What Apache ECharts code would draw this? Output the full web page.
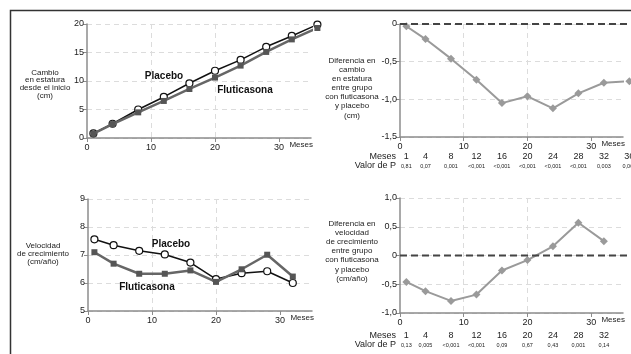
<!DOCTYPE html>
<html>
<head>
<meta charset="utf-8">
<script src="https://cdn.jsdelivr.net/npm/echarts@6/dist/echarts.min.js"></script>
<style>
html, body { margin: 0; padding: 0; background: #fff; }
#chart { width: 631px; height: 354px; }
</style>
</head>
<body>
<div id="chart"></div>
<script>
// datos
var meses = [1, 4, 8, 12, 16, 20, 24, 28, 32, 36];
var cambioPlacebo = [0.8, 2.5, 5.0, 7.2, 9.6, 11.8, 13.7, 16.0, 17.9, 19.9];
var cambioFluticasona = [0.75, 2.45, 4.5, 6.5, 8.6, 10.6, 12.7, 15.1, 17.3, 19.3];
var difCambio = [-0.03, -0.2, -0.46, -0.74, -1.05, -0.96, -1.12, -0.92, -0.78, -0.76];
var valorPCambio = ['0,81', '0,07', '0,001', '<0,001', '<0,001', '<0,001', '<0,001', '<0,001', '0,003', '0,006'];

var mesesVel = [1, 4, 8, 12, 16, 20, 24, 28, 32];
var velPlacebo = [7.56, 7.35, 7.15, 7.02, 6.73, 6.14, 6.35, 6.42, 6.0];
var velFluticasona = [7.1, 6.69, 6.33, 6.33, 6.45, 6.04, 6.49, 7.01, 6.23];
var difVel = [-0.46, -0.62, -0.79, -0.68, -0.26, -0.08, 0.16, 0.57, 0.25];
var valorPVel = ['0,13', '0,005', '<0,001', '<0,001', '0,09', '0,67', '0,43', '0,001', '0,14'];

var xTicks = [0, 10, 20, 30];
var FONT = '"Liberation Sans", Arial, sans-serif';
var AXIS_GRAY = '#8c8c8c';
var TXT = '#222';

function pares(xs, ys) {
  return xs.map(function (x, i) { return [x, ys[i]]; });
}

function coma(v) {
  if (v === 0) return '0';
  return v.toFixed(1).replace('.', ',');
}

function xAx(gi) {
  return {
    type: 'value', gridIndex: gi, min: 0, max: 35,
    name: 'Meses', nameLocation: 'end', nameGap: 2,
    nameTextStyle: { fontSize: 8, color: TXT, fontFamily: FONT, align: 'right', verticalAlign: 'top', padding: [3, 0, 0, 0] },
    axisLine: { onZero: false, lineStyle: { color: AXIS_GRAY, width: 1.5 } },
    axisTick: { show: true, length: 4, customValues: xTicks, lineStyle: { color: AXIS_GRAY } },
    axisLabel: { customValues: xTicks, fontSize: 9, color: TXT, fontFamily: FONT, margin: 5 },
    splitLine: { show: true, showMinLine: false, showMaxLine: false, lineStyle: { color: '#dcdcdc', type: [5, 4] } }
  };
}

function yAx(gi, min, max, interval, fmt) {
  return {
    type: 'value', gridIndex: gi, min: min, max: max, interval: interval,
    axisLine: { show: true, onZero: false, lineStyle: { color: AXIS_GRAY, width: 1.5 } },
    axisTick: { show: true, length: 4, lineStyle: { color: AXIS_GRAY } },
    axisLabel: { fontSize: 9, color: TXT, fontFamily: FONT, margin: 3, formatter: fmt },
    splitLine: { show: true, lineStyle: { color: '#dcdcdc', type: [5, 4] } }
  };
}

function lineaPlacebo(gi, data) {
  return {
    type: 'line', xAxisIndex: gi, yAxisIndex: gi, data: data, clip: false, z: 3,
    symbol: 'circle', symbolSize: 7,
    itemStyle: { color: '#fff', borderColor: '#111', borderWidth: 1.2 },
    lineStyle: { color: '#111', width: 1.5 }
  };
}

function lineaFluti(gi, data) {
  return {
    type: 'line', xAxisIndex: gi, yAxisIndex: gi, data: data, clip: false, z: 4,
    symbol: 'rect', symbolSize: 6,
    itemStyle: { color: '#555' },
    lineStyle: { color: '#666', width: 2.5 }
  };
}

function lineaDif(gi, data) {
  return {
    type: 'line', xAxisIndex: gi, yAxisIndex: gi, data: data, clip: false, z: 4,
    symbol: 'diamond', symbolSize: 8,
    itemStyle: { color: '#9a9a9a' },
    lineStyle: { color: '#9a9a9a', width: 2 }
  };
}

var chart = echarts.init(document.getElementById('chart'));

var option = {
  animation: false,
  textStyle: { fontFamily: FONT },
  grid: [
    { left: 87, top: 24, width: 224, height: 114 },
    { left: 400, top: 24, width: 223, height: 113 },
    { left: 88, top: 199, width: 224, height: 112 },
    { left: 400, top: 198, width: 223, height: 115 }
  ],
  xAxis: [xAx(0), xAx(1), xAx(2), xAx(3)],
  yAxis: [
    yAx(0, 0, 20, 5),
    yAx(1, -1.5, 0, 0.5, coma),
    yAx(2, 5, 9, 1),
    yAx(3, -1, 1, 0.5, coma)
  ],
  series: [
    lineaPlacebo(0, pares(meses, cambioPlacebo)),
    lineaFluti(0, pares(meses, cambioFluticasona)),
    lineaDif(1, pares(meses, difCambio)),
    lineaPlacebo(2, pares(mesesVel, velPlacebo)),
    lineaFluti(2, pares(mesesVel, velFluticasona)),
    lineaDif(3, pares(mesesVel, difVel))
  ]
};

chart.setOption(option);

// textos y lineas de referencia
var g = [];

g.push({
  type: 'polyline', silent: true, z: 10,
  shape: { points: [[10.5, 354], [10.5, 10.5], [631, 10.5]] },
  style: { stroke: '#333', lineWidth: 1.5, fill: null }
});

function texto(x, y, t, opts) {
  opts = opts || {};
  g.push({
    type: 'text', x: x, y: y, silent: true, z: 10,
    style: {
      text: t, fill: opts.color || TXT,
      font: (opts.weight || 'normal') + ' ' + (opts.size || 8) + 'px ' + FONT,
      textAlign: opts.align || 'center', textVerticalAlign: 'middle',
      lineHeight: opts.lh || 9
    }
  });
}

texto(45, 84, 'Cambio\nen estatura\ndesde el inicio\n(cm)', { lh: 7.8 });
texto(352, 88, 'Diferencia en\ncambio\nen estatura\nentre grupo\ncon fluticasona\ny placebo\n(cm)', { lh: 9.1 });
texto(43, 254, 'Velocidad\nde crecimiento\n(cm/año)', { lh: 7.8 });
texto(352, 251, 'Diferencia en\nvelocidad\nde crecimiento\nentre grupo\ncon fluticasona\ny placebo\n(cm/año)', { lh: 9.2 });

texto(164, 76, 'Placebo', { size: 10, weight: 'bold', color: '#111' });
texto(245, 90, 'Fluticasona', { size: 10, weight: 'bold', color: '#111' });
texto(171, 244, 'Placebo', { size: 10, weight: 'bold', color: '#111' });
texto(147, 287, 'Fluticasona', { size: 10, weight: 'bold', color: '#111' });

// linea cero discontinua
[1, 3].forEach(function (ai) {
  var p = chart.convertToPixel({ xAxisIndex: ai, yAxisIndex: ai }, [0, 0]);
  g.push({
    type: 'line', silent: true, z: 5,
    shape: { x1: p[0], y1: p[1], x2: 631, y2: p[1] },
    style: { stroke: '#444', lineWidth: 1.8, lineDash: [7, 4] }
  });
});

// tablas de meses y valor de P
function tabla(ai, xs, ps, yMes, yP) {
  texto(396, yMes, 'Meses', { size: 9, align: 'right' });
  texto(396, yP, 'Valor de P', { size: 9, align: 'right' });
  xs.forEach(function (m, i) {
    var px = chart.convertToPixel({ xAxisIndex: ai }, m);
    texto(px, yMes, String(m), { size: 9 });
    texto(px, yP + 0.5, ps[i], { size: 5.5 });
  });
}
tabla(1, meses, valorPCambio, 157, 166);
tabla(3, mesesVel, valorPVel, 336, 345);

chart.setOption({ graphic: g });
</script>
</body>
</html>
